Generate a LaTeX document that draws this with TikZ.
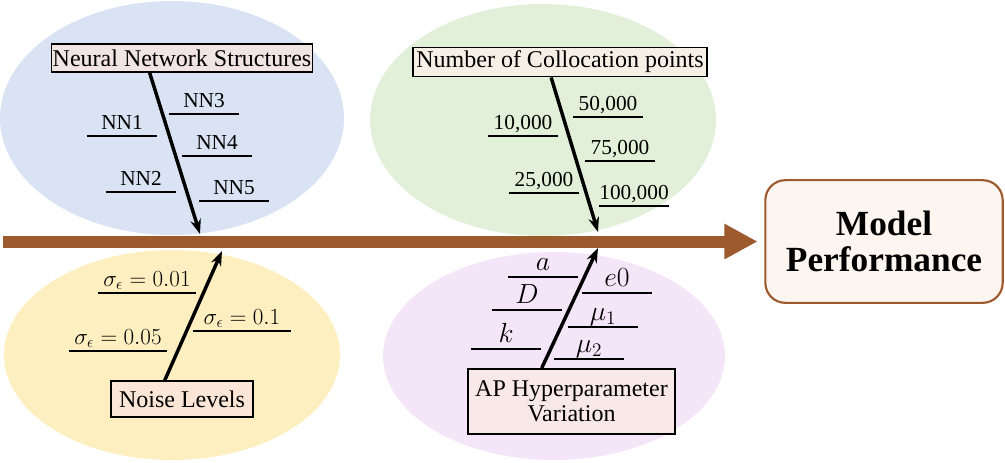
\documentclass[tikz,border=0pt]{standalone}
\usepackage{fontspec}
\setmainfont{Liberation Serif}
\usetikzlibrary{arrows.meta,calc}
\definecolor{cblue}{HTML}{DAE3F3}
\definecolor{cgreen}{HTML}{E2F0D9}
\definecolor{cyellow}{HTML}{FDEFC0}
\definecolor{cpurple}{HTML}{F4E6F8}
\definecolor{cbrown}{HTML}{9C5A2D}
\definecolor{boxnn}{HTML}{F1E5E3}
\definecolor{boxcol}{HTML}{F6EFE6}
\definecolor{boxnoise}{HTML}{FBE5D6}
\definecolor{boxap}{HTML}{F9E8E8}
\definecolor{boxperf}{HTML}{FDF6F0}
\tikzset{
  cat/.style={draw=black, line width=1.2pt, inner sep=1pt, font=\fontsize{18}{19}\selectfont, align=center},
  lbl/.style={inner xsep=0pt, inner ysep=5pt, text depth=0pt, anchor=south, minimum width=52.5pt, font=\fontsize{16}{18}\selectfont},
  mlbl/.style={lbl, minimum width=72.75pt, font=\fontsize{18.5}{19}\selectfont},
  plbl/.style={lbl, font=\fontsize{19.5}{20}\selectfont},
  uline/.style={line width=1.1pt},
  bone/.style={line width=2.6pt, -{Stealth[length=11pt,width=8pt]}},
}
\newcommand{\ulab}[5][lbl]{\node[#1] (#2) at (#3,#4) {#5}; \draw[uline] (#2.south west) -- (#2.south east);}
\begin{document}
\begin{tikzpicture}[x=0.75pt,y=-0.75pt]
\useasboundingbox (0,0) rectangle (1005,462);
% ellipses
\fill[cblue] (172,118) ellipse [x radius=172, y radius=117];
\fill[cgreen] (543,120) ellipse [x radius=173, y radius=116];
\fill[cyellow] (172,355) ellipse [x radius=168, y radius=105];
\fill[cpurple] (554,356) ellipse [x radius=171, y radius=104];
% main spine
\node[draw=cbrown, fill=boxperf, line width=1.6pt, rounded corners=15pt, minimum width=178pt, minimum height=92pt, align=center, font=\fontsize{26.5}{27}\selectfont\bfseries] (perf) at (884,241.5) {Model\\Performance};
\coordinate (tail) at (3,241.5);
\draw[cbrown, line width=9pt, -{Triangle[length=25pt,width=25pt]}, shorten >=5pt] (tail) -- (perf.west);
% category boxes
\node[cat, fill=boxnn, minimum width=195pt, minimum height=21pt] (nn) at (182,58) {Neural Network Structures};
\node[cat, fill=boxcol, minimum width=220.5pt, minimum height=22pt] (col) at (560,62) {Number of Collocation points};
\node[cat, fill=boxnoise, minimum width=106.5pt, minimum height=27pt] (noise) at (182,399) {Noise Levels};
\node[cat, fill=boxap, minimum width=155pt, minimum height=49pt, font=\fontsize{18}{19}\selectfont] (ap) at (571.5,401.5) {AP Hyperparameter\\Variation};
% bone end points
\coordinate (nnend) at (200,234);
\coordinate (colend) at (598,232);
\coordinate (noiseend) at (222,251);
\coordinate (apend) at (598,248);
\draw[bone] ($(nn.south west)!0.377!(nn.south east)$) -- (nnend);
\draw[bone] ($(col.south west)!0.47!(col.south east)$) -- (colend);
\draw[bone] ($(noise.north west)!0.38!(noise.north east)$) -- (noiseend);
\draw[bone] ($(ap.north west)!0.357!(ap.north east)$) -- (apend);
% NN labels
\ulab{nn1}{122}{136}{NN1}
\ulab{nn3}{204}{114}{NN3}
\ulab{nn4}{217}{156}{NN4}
\ulab{nn2}{141}{192}{NN2}
\ulab{nn5}{234}{201}{NN5}
% collocation labels
\ulab{c1}{523}{136}{10,000}
\ulab{c3}{608}{117}{50,000}
\ulab{c4}{620}{161}{75,000}
\ulab{c2}{544}{193}{25,000}
\ulab{c5}{634}{206}{100,000}
% noise labels
\ulab[mlbl]{s1}{147}{293}{$\sigma_\epsilon = 0.01$}
\ulab[mlbl]{s3}{242}{331}{$\sigma_\epsilon = 0.1$}
\ulab[mlbl]{s2}{118}{351}{$\sigma_\epsilon = 0.05$}
% AP labels
\ulab[plbl]{pa}{543}{277}{$a$}
\ulab[plbl]{pe}{617}{293}{$e0$}
\ulab[plbl]{pd}{527}{310}{$D$}
\ulab[plbl]{pm1}{603}{327}{$\mu_1$}
\ulab[plbl]{pk}{506}{349}{$k$}
\ulab[plbl]{pm2}{589}{359}{$\mu_2$}
\end{tikzpicture}
\end{document}
